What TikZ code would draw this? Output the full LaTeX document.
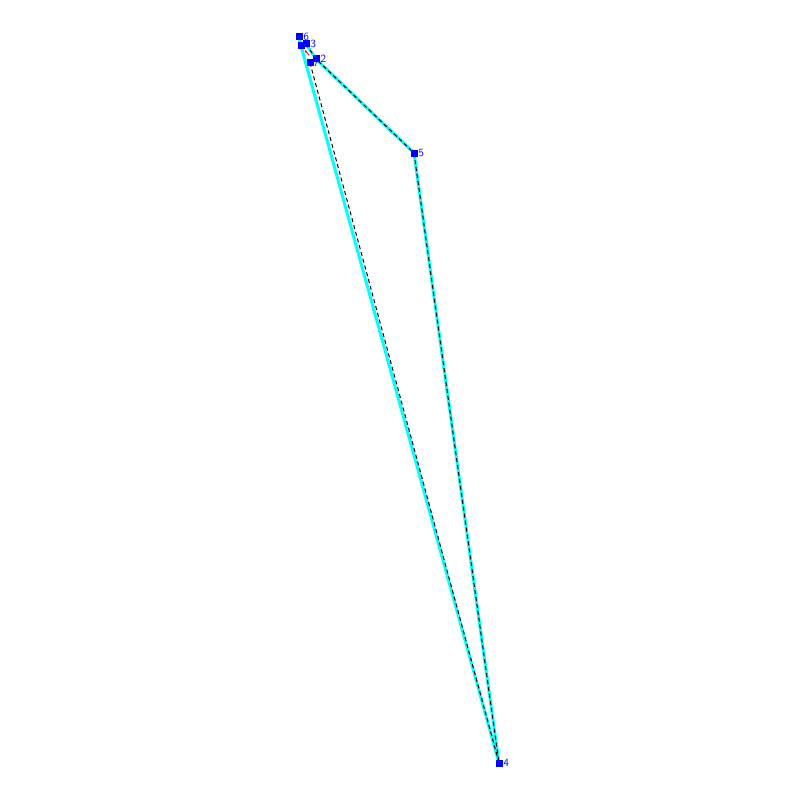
\documentclass[tikz,border=0pt]{standalone}
\usepackage{tikz}
\usetikzlibrary{arrows.meta,backgrounds}
\definecolor{hullcyan}{HTML}{00FFFF}
\tikzset{pt/.style={rectangle,fill=blue,minimum size=7pt,inner sep=0pt},
  lbl/.style={text=blue,font=\sffamily\fontsize{11}{11}\selectfont,inner sep=0.8pt},
  hull/.style={hullcyan,line width=3pt},
  tour/.style={black,line width=1pt,dash pattern=on 4pt off 3pt},
  every picture/.style={line cap=round}}

\begin{document}
\begin{tikzpicture}[x=1pt,y=1pt]
\useasboundingbox (0,0) rectangle (800,-800);
\node[pt,label={[lbl,anchor=west]east:6}] (n6) at (299,-37) {};
\node[pt] (n1) at (301,-46) {};
\node[pt,label={[lbl,anchor=west]east:3}] (n3) at (306,-44) {};
\node[pt,label={[lbl,anchor=west]east:2}] (n2) at (316,-59) {};
\node[pt,label={[lbl,anchor=west,xshift=-1pt]east:7}] (n7) at (310,-63) {};
\node[pt,label={[lbl,anchor=west]east:5}] (n5) at (414,-153) {};
\node[pt,label={[lbl,anchor=west]east:4}] (n4) at (499,-763) {};
\begin{scope}[on background layer]
% hull
\draw[hull] (n1.center)--(n4.center)--(n5.center)--(n2.center)--(n3.center);
\draw[hull] (n6.center)--(n1.center);
% tour
\draw[tour] (n3.center)--(n2.center)--(n5.center)--(n4.center)--(n7.center);
\end{scope}
\draw[red,thick,-{Latex[length=3pt]}] (309,-55)--(n1);
\end{tikzpicture}
\end{document}
